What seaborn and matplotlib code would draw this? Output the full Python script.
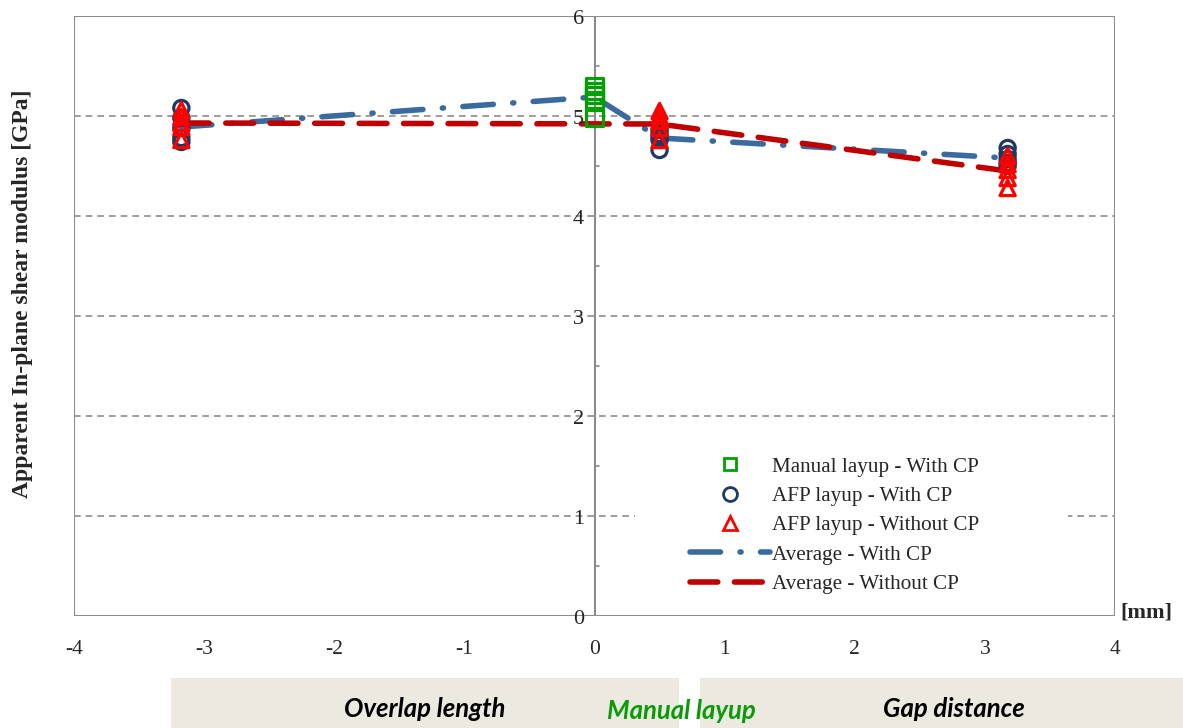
import matplotlib
matplotlib.use("Agg")
import matplotlib.pyplot as plt
from matplotlib.patches import Rectangle
from matplotlib.lines import Line2D
import seaborn as sns
import pandas as pd

# Specimen positions [mm]: negative = overlap length, positive = gap distance
overlap_x = -3.175
manual_x = 0.0
gap_small_x = 0.5
gap_large_x = 3.175

# Individual specimen results [GPa]
manual_with_cp = [5.30, 5.25, 5.21, 5.16, 4.98]
afp_with_cp_overlap = [5.08, 4.98, 4.88, 4.78, 4.74]
afp_with_cp_gap_small = [4.86, 4.82, 4.78, 4.76, 4.66]
afp_with_cp_gap_large = [4.68, 4.62, 4.57, 4.53, 4.50]
afp_without_cp_overlap = [5.06, 4.99, 4.93, 4.89, 4.76]
afp_without_cp_gap_small = [5.05, 5.00, 4.95, 4.88, 4.76]
afp_without_cp_gap_large = [4.60, 4.52, 4.46, 4.38, 4.28]

# Averages
avg_with_cp_x = [-3.175, 0.0, 0.5, 3.175]
avg_with_cp = [4.89, 5.19, 4.78, 4.58]
avg_without_cp_x = [-3.175, 0.5, 3.175]
avg_without_cp = [4.93, 4.92, 4.45]

x_ticks = [-4, -3, -2, -1, 0, 1, 2, 3, 4]
y_ticks = [0, 1, 2, 3, 4, 5, 6]

labels = ["Manual layup - With CP", "AFP layup - With CP", "AFP layup - Without CP",
          "Average - With CP", "Average - Without CP"]

GREEN = "#00A000"
NAVY = "#1F3A60"
RED = "#FF0000"
STEEL = "#3A6A9E"
DARKRED = "#C00000"
GRID = "#8C8C8C"

sns.set_style("white")
plt.rcParams["font.family"] = ["Liberation Serif", "DejaVu Serif"]

fig = plt.figure(figsize=(11.83, 7.28), dpi=100)
ax = fig.add_axes([74 / 1183, 1 - 616 / 728, 1041 / 1183, 600 / 728])

# Average lines
sns.lineplot(x=avg_with_cp_x, y=avg_with_cp, ax=ax, color=STEEL, linewidth=4,
             legend=False, zorder=2)
ax.lines[-1].set_dashes([5.5, 3.5, 0.2, 3.5])
ax.lines[-1].set_dash_capstyle("round")
sns.lineplot(x=avg_without_cp_x, y=avg_without_cp, ax=ax, color=DARKRED, linewidth=4,
             legend=False, zorder=2)
ax.lines[-1].set_dashes([5, 3])
ax.lines[-1].set_dash_capstyle("round")

# Individual specimens
def points(xv, ys):
    return pd.DataFrame({"x": [xv] * len(ys), "y": ys})

circles = pd.concat([points(overlap_x, afp_with_cp_overlap),
                     points(gap_small_x, afp_with_cp_gap_small),
                     points(gap_large_x, afp_with_cp_gap_large)])
triangles = pd.concat([points(overlap_x, afp_without_cp_overlap),
                       points(gap_small_x, afp_without_cp_gap_small),
                       points(gap_large_x, afp_without_cp_gap_large)])
squares = points(manual_x, manual_with_cp)

sns.scatterplot(data=circles, x="x", y="y", ax=ax, marker="o", s=120,
                facecolor="none", edgecolor=NAVY, linewidth=2.3, zorder=3)
sns.scatterplot(data=triangles, x="x", y="y", ax=ax, marker="^", s=120,
                facecolor="none", edgecolor=RED, linewidth=2.3, zorder=4)
sns.scatterplot(data=squares, x="x", y="y", ax=ax, marker="s", s=135,
                facecolor="none", edgecolor=GREEN, linewidth=2.3, zorder=5)

ax.set_xlim(-4, 4)
ax.set_ylim(0, 6)
ax.set_xlabel("")
ax.set_ylabel("")

# Horizontal dashed grid
for yv in y_ticks[1:-1]:
    ax.axhline(yv, color=GRID, linestyle=(0, (4, 3)), linewidth=1.2, zorder=1)

# Axes frame and the y axis drawn through x = 0
for side in ["top", "right", "left", "bottom"]:
    ax.spines[side].set_visible(False)
ax.add_patch(Rectangle((0, 0), 1, 1, transform=ax.transAxes, fill=False,
                       edgecolor=GRID, linewidth=1.5, zorder=0.5))
ax.axvline(0, color=GRID, linewidth=1.5, zorder=1.5)

ax.set_xticks(x_ticks)
ax.set_xticklabels([str(v) for v in x_ticks])
ax.tick_params(axis="x", labelsize=15.5, length=0, pad=17)
ax.set_yticks([])
# y tick labels placed next to the x = 0 line
for yv in y_ticks:
    ax.text(-0.08, yv - 0.04, str(yv), ha="right", va="center", fontsize=16, zorder=6)
for yv in [0.5, 1.5, 2.5, 3.5, 4.5, 5.5]:
    ax.plot([0, 0.035], [yv, yv], color=GRID, linewidth=1.2, zorder=1.5)

fig.text(0.019, 1 - 294 / 728, "Apparent In-plane shear modulus [GPa]", rotation=90,
         ha="center", va="center", fontsize=17, fontweight="bold")
fig.text(1120 / 1183, 1 - 612 / 728, "[mm]", ha="left", va="center",
         fontsize=16, fontweight="bold")

# Legend on a white panel that hides the grid behind it
ax.add_patch(Rectangle(((635 - 74) / 1041, (616 - 605) / 600), (1068 - 635) / 1041,
                       150 / 600, transform=ax.transAxes, facecolor="white",
                       edgecolor="none", zorder=1.3))
handles = [
    Line2D([], [], linestyle="none", marker="s", markersize=9, markerfacecolor="none",
           markeredgecolor=GREEN, markeredgewidth=2),
    Line2D([], [], linestyle="none", marker="o", markersize=10, markerfacecolor="none",
           markeredgecolor=NAVY, markeredgewidth=2),
    Line2D([], [], linestyle="none", marker="^", markersize=10, markerfacecolor="none",
           markeredgecolor=RED, markeredgewidth=2),
    Line2D([], [], color=STEEL, linewidth=4, dashes=[5.5, 3.5, 0.2, 3.5],
           dash_capstyle="round"),
    Line2D([], [], color=DARKRED, linewidth=4, dashes=[5, 3], dash_capstyle="round"),
]
leg = ax.legend(handles, labels, loc="upper left",
                bbox_to_anchor=((690 - 74) / 1041, (616 - 457) / 600),
                fontsize=15.2, frameon=False, handlelength=3.8, handletextpad=0.1,
                labelspacing=0.45, borderpad=0.0, borderaxespad=0)
leg.set_zorder(7)

# Region captions below the chart
BEIGE = "#ECEAE0"
fig.patches.append(Rectangle((171 / 1183, 0), (679 - 171) / 1183, 50 / 728,
                             transform=fig.transFigure, facecolor=BEIGE,
                             edgecolor="none", zorder=0))
fig.patches.append(Rectangle((700 / 1183, 0), (1183 - 700) / 1183, 50 / 728,
                             transform=fig.transFigure, facecolor=BEIGE,
                             edgecolor="none", zorder=0))
cap_font = dict(family=["Lato", "DejaVu Sans"], fontsize=18.5, fontweight="bold",
                fontstyle="italic", va="center", ha="center")
fig.text(425 / 1183, 1 - 709 / 728, "Overlap length", color="black", **cap_font)
fig.text(681 / 1183, 1 - 711 / 728, "Manual layup", color="#0A9A0A", **cap_font)
fig.text(954 / 1183, 1 - 709 / 728, "Gap distance", color="black", **cap_font)

fig.savefig("out.png", dpi=100)
